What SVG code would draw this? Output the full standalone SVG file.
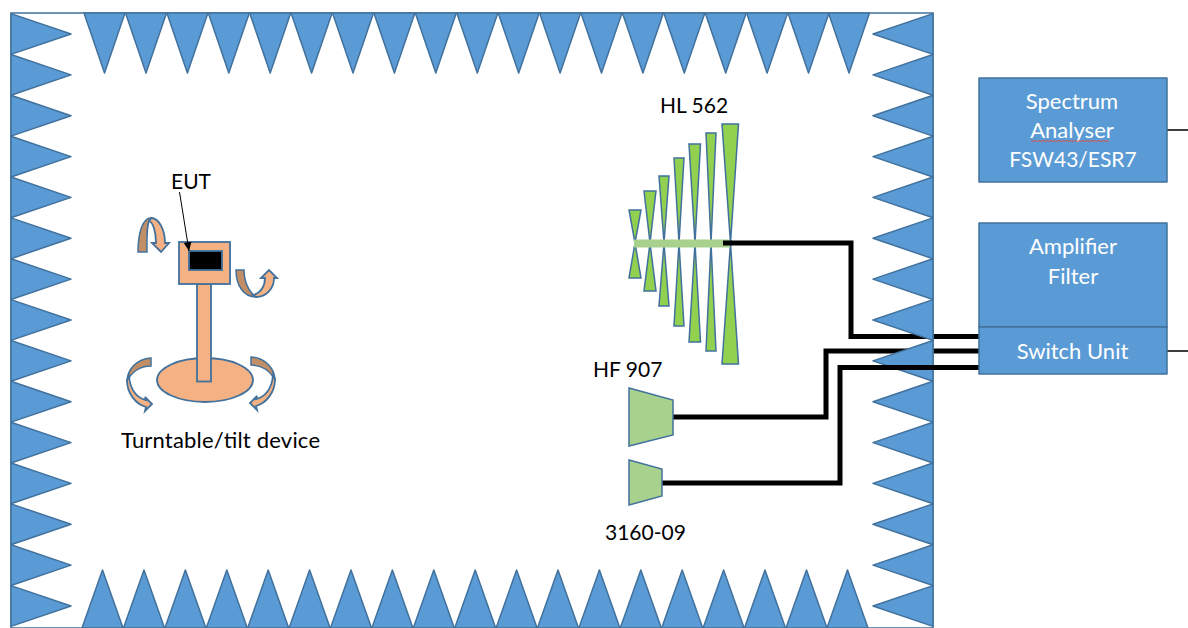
<svg xmlns="http://www.w3.org/2000/svg" width="1188" height="628" viewBox="0 0 1188 628">
<style>
.a{fill:#5b9bd5;stroke:#41719c;stroke-width:1.5;stroke-linejoin:round}
.w{stroke:#000;stroke-width:5;fill:none}
.g{fill:#92d050;stroke:#41719c;stroke-width:1.5}
.l{fill:#a9d18e;stroke:#41719c;stroke-width:1.5}
.o{fill:#f4b183;stroke:#41719c;stroke-width:1.800}
.d{fill:#c18e65;stroke:#41719c;stroke-width:1.500}
.t{font:22px Lato,"Open Sans",sans-serif;fill:#000}
.n{font:21px Lato,"Open Sans",sans-serif;fill:#000}
.b{font:22px Lato,"Open Sans",sans-serif;fill:#fff;text-anchor:middle}
</style>
<defs>
<polygon id="L" class="a" points="11,-20.4 71,0 11,20.4"/>
<polygon id="R" class="a" points="933,-20.4 873,0 933,20.4"/>
<polygon id="T" class="a" points="-20.5,13 20.5,13 0,73"/>
<polygon id="B" class="a" points="-20.5,628 20.5,628 0,570"/>
<marker id="ah" markerUnits="userSpaceOnUse" markerWidth="10" markerHeight="9" refX="9" refY="4" orient="auto"><path d="M0,0L9,4L0,8z" fill="#000"/></marker>
<g id="sweep">
<path class="d" d="M151,358C137,359 127,369 127,382C131,372 140,366 151,366Z"/>
<path class="o" d="M127,380C127,394 136,404 146,407L145,411L152,404L145,397L146,400C137,398 130,390 129,376Z"/>
</g>
</defs>
<g id="connectors">
<path class="w" d="M723,243H851V336.500H979"/>
<path class="w" d="M673,417H826V351H979"/>
<path d="M1167,130H1188M1167,351H1188" stroke="#000" stroke-width="1.300" fill="none"/>
</g>
<g id="chamber">
<rect x="11" y="13" width="922" height="615" fill="none" stroke="#41719c" stroke-width="1.500"/>
<use href="#L" y="34"/><use href="#L" y="74.900"/><use href="#L" y="115.700"/><use href="#L" y="156.600"/><use href="#L" y="197.400"/><use href="#L" y="238.300"/><use href="#L" y="279.100"/><use href="#L" y="320"/><use href="#L" y="360.900"/><use href="#L" y="401.700"/><use href="#L" y="442.600"/><use href="#L" y="483.400"/><use href="#L" y="524.300"/><use href="#L" y="565.100"/><use href="#L" y="606"/>
<use href="#R" y="34"/><use href="#R" y="74.900"/><use href="#R" y="115.700"/><use href="#R" y="156.600"/><use href="#R" y="197.400"/><use href="#R" y="238.300"/><use href="#R" y="279.100"/><use href="#R" y="320"/><use href="#R" y="360.900"/><use href="#R" y="401.700"/><use href="#R" y="442.600"/><use href="#R" y="483.400"/><use href="#R" y="524.300"/><use href="#R" y="565.100"/><use href="#R" y="606"/>
<use href="#T" x="104.500"/><use href="#T" x="146"/><use href="#T" x="187.400"/><use href="#T" x="228.800"/><use href="#T" x="270.200"/><use href="#T" x="311.600"/><use href="#T" x="353"/><use href="#T" x="394.400"/><use href="#T" x="435.800"/><use href="#T" x="477.300"/><use href="#T" x="518.700"/><use href="#T" x="560.100"/><use href="#T" x="601.500"/><use href="#T" x="642.900"/><use href="#T" x="684.300"/><use href="#T" x="725.700"/><use href="#T" x="767.100"/><use href="#T" x="808.500"/><use href="#T" x="849"/>
<use href="#B" x="102.500"/><use href="#B" x="144"/><use href="#B" x="185.400"/><use href="#B" x="226.800"/><use href="#B" x="268.200"/><use href="#B" x="309.600"/><use href="#B" x="351"/><use href="#B" x="392.400"/><use href="#B" x="433.800"/><use href="#B" x="475.200"/><use href="#B" x="516.600"/><use href="#B" x="558"/><use href="#B" x="599.400"/><use href="#B" x="640.800"/><use href="#B" x="682.200"/><use href="#B" x="723.600"/><use href="#B" x="765"/><use href="#B" x="806.500"/><use href="#B" x="847.500"/>
</g>
<g id="connectors-front">
<path class="w" d="M662,483H840V367.500H979"/>
</g>
<g id="spectrum-analyser">
<rect class="a" x="979" y="78" width="188" height="104"/>
<text class="b" x="1072" y="109">Spectrum</text>
<text class="b" x="1072" y="138">Analyser</text>
<text class="b" x="1073" y="167" style="font-size:21px">FSW43/ESR7</text>
<path d="M1031,140.500l2,1 2,-1 2,1 2,-1 2,1 2,-1 2,1 2,-1 2,1 2,-1 2,1 2,-1 2,1 2,-1 2,1 2,-1 2,1 2,-1 2,1 2,-1 2,1 2,-1 2,1 2,-1 2,1 2,-1 2,1 2,-1 2,1 2,-1 2,1 2,-1 2,1 2,-1 2,1 2,-1 2,1 2,-1 2,1" fill="none" stroke="#d9534f" stroke-width="1"/>
</g>
<g id="amplifier-filter">
<rect class="a" x="979" y="223" width="188" height="104"/>
<text class="b" x="1073" y="254">Amplifier</text>
<text class="b" x="1073" y="284">Filter</text>
</g>
<g id="switch-unit">
<rect class="a" x="979" y="327" width="188" height="47"/>
<text class="b" x="1072.500" y="359">Switch Unit</text>
</g>
<g id="hl562">
<polygon class="g" points="629,210 641,210 635,243 641,278 629,278 635,243"/>
<polygon class="g" points="644,191 656,191 650,243 656,291 644,291 650,243"/>
<polygon class="g" points="659,176 669,176 664,243 669,306 659,306 664,243"/>
<polygon class="g" points="674,158 684,158 679,243 684,326 674,326 679,243"/>
<polygon class="g" points="689,144 700.500,144 695,243 700.500,342 689,342 695,243"/>
<polygon class="g" points="706,133 716,133 711,243 716,351 706,351 711,243"/>
<polygon class="g" points="722,124 738.500,124 730.500,243 738.500,364 722,364 730.500,243"/>
<rect x="634" y="239.500" width="96" height="8" fill="#a9d18e"/>
<path class="w" d="M723,243H732"/>
<text class="n" x="660" y="113">HL 562</text>
</g>
<g id="hf907">
<polygon class="l" points="629,388 673,400 673,435 629,446"/>
<text class="n" x="593" y="377">HF 907</text>
</g>
<g id="a3160">
<polygon class="l" points="629,460 662,469 662,496 629,505"/>
<text class="n" x="605" y="540">3160-09</text>
</g>
<g id="turntable">
<ellipse class="o" cx="205" cy="380" rx="48" ry="22"/>
<rect class="o" x="197" y="284" width="14" height="97.500"/>
<use href="#sweep"/>
<use href="#sweep" transform="translate(402,-1) scale(-1,1)"/>
<text class="t" x="121" y="448" textLength="199">Turntable/tilt device</text>
</g>
<g id="eut">
<rect class="o" x="179" y="242" width="51" height="42"/>
<rect x="189" y="251" width="33" height="19" fill="#000" stroke="#41719c" stroke-width="1.800"/>
<path d="M179.500,192L189,251" stroke="#000" stroke-width="1" fill="none" marker-end="url(#ah)"/>
<path class="d" d="M138,252C138,232 143,218 151,218C146,222 147,240 147,252Z"/>
<path class="o" d="M151,218C159,218 165,230 165,243H169L161,252L152,243H156C156,232 153,222 149,221Z"/>
<path class="d" d="M236,270H244C244,282 249,292 256,297C244,297 236,286 236,270Z"/>
<path class="o" d="M256,297C266,297 274,289 274,278H277L269,270L261,278H265C265,286 261,293 253,295Z"/>
<text class="n" x="171" y="189">EUT</text>
</g>
</svg>
